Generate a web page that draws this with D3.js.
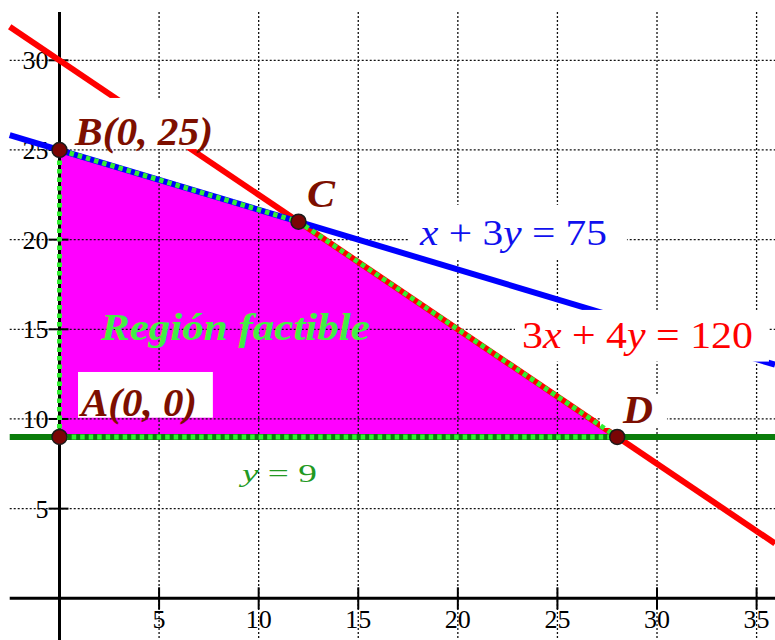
<!DOCTYPE html>
<html>
<head>
<meta charset="utf-8">
<script src="https://cdn.jsdelivr.net/npm/d3@7"></script>
<style>
  body { margin: 0; background: #fff; }
  svg { display: block; }
  text { font-family: "Liberation Serif", "Times New Roman", serif; }
</style>
</head>
<body>
<div id="chart"></div>
<script>
// ticks
const xTicks = [5, 10, 15, 20, 25, 30, 35];
const yTicks = [5, 10, 15, 20, 25, 30];

// constraint lines a*x + b*y = c
const lineNames = ["red", "blue", "green"];
const lineA = [3, 1, 0];
const lineB = [4, 3, 1];
const lineC = [120, 75, 9];

// vertices of the feasible region
const vertexNames = ["A", "B", "C", "D"];
const vertexX = [0, 0, 12, 28];
const vertexY = [9, 25, 21, 9];

const W = 775, H = 640;
const x = d3.scaleLinear().domain([0, 35]).range([59.5, 756.6]);
const y = d3.scaleLinear().domain([0, 30]).range([598.3, 60.3]);
const xMin = -2.5, xMax = x.invert(W);
const yMax = 32.7, yMin = y.invert(H);

const svg = d3.select("#chart").append("svg")
  .attr("width", W).attr("height", H);

const DARKRED = "#7d0f00";
const DOTGREEN = "#33ee33";

// feasible region
const region = vertexX.map((d, i) => [x(d), y(vertexY[i])]);
svg.append("polygon")
  .attr("points", region.map(p => p.join(",")).join(" "))
  .attr("fill", "#ff00ff");

// grid
const grid = svg.append("g").attr("stroke", "#111").attr("stroke-width", 1.3)
  .attr("stroke-dasharray", "2,2");
grid.selectAll("line.v").data(xTicks).enter().append("line")
  .attr("x1", d => x(d)).attr("x2", d => x(d))
  .attr("y1", y(yMax)).attr("y2", H);
grid.selectAll("line.h").data(yTicks).enter().append("line")
  .attr("x1", x(xMin)).attr("x2", W)
  .attr("y1", d => y(d)).attr("y2", d => y(d));

// axes
svg.append("line").attr("x1", x(0)).attr("x2", x(0))
  .attr("y1", y(yMax)).attr("y2", H)
  .attr("stroke", "#000").attr("stroke-width", 3);
svg.append("line").attr("x1", x(xMin)).attr("x2", W)
  .attr("y1", y(0)).attr("y2", y(0))
  .attr("stroke", "#000").attr("stroke-width", 3);
svg.selectAll("line.xt").data(xTicks).enter().append("line")
  .attr("x1", d => x(d)).attr("x2", d => x(d))
  .attr("y1", y(0) - 11).attr("y2", y(0) + 11)
  .attr("stroke", "#000").attr("stroke-width", 2);
svg.selectAll("line.yt").data(yTicks).enter().append("line")
  .attr("x1", x(0) - 11).attr("x2", x(0) + 9)
  .attr("y1", d => y(d)).attr("y2", d => y(d))
  .attr("stroke", "#000").attr("stroke-width", 2);

svg.selectAll("text.xl").data(xTicks).enter().append("text")
  .attr("x", d => x(d)).attr("y", y(0) + 30)
  .attr("text-anchor", "middle").attr("font-size", 26)
  .text(d => d);
svg.selectAll("text.yl").data(yTicks).enter().append("text")
  .attr("x", x(0) - 11).attr("y", d => y(d) + 9)
  .attr("text-anchor", "end").attr("font-size", 26)
  .text(d => d);

function linePath(i) {
  const a = lineA[i], b = lineB[i], c = lineC[i];
  return [[x(xMin), y((c - a * xMin) / b)], [x(xMax), y((c - a * xMax) / b)]];
}
function drawLine(i, color) {
  const p = linePath(i);
  svg.append("line")
    .attr("x1", p[0][0]).attr("y1", p[0][1])
    .attr("x2", p[1][0]).attr("y2", p[1][1])
    .attr("stroke", color).attr("stroke-width", 6);
}
function box(x0, y0, x1, y1) {
  svg.append("rect")
    .attr("x", x(x0)).attr("y", y(y0))
    .attr("width", x(x1) - x(x0)).attr("height", y(y1) - y(y0))
    .attr("fill", "#fff");
}

drawLine(0, "#ff0000");
box(0.33, 27.9, 8.06, 25.05);   // B label
box(0.93, 12.62, 7.7, 10.07);   // A label
box(17.5, 21.94, 28.49, 18.9);  // x + 3y label
drawLine(1, "#0000ff");
box(22.87, 16.08, 35.62, 13.2); // 3x + 4y label
box(27.14, 11.4, 30.5, 9.5);    // D label
drawLine(2, "#0b7d0b");

// dotted boundary of the region
svg.append("polygon")
  .attr("points", region.map(p => p.join(",")).join(" "))
  .attr("fill", "none").attr("stroke", DOTGREEN)
  .attr("stroke-width", 5).attr("stroke-dasharray", "4.5,4");

// vertices
svg.selectAll("circle.v").data(vertexNames).enter().append("circle")
  .attr("cx", (d, i) => x(vertexX[i])).attr("cy", (d, i) => y(vertexY[i]))
  .attr("r", 7.5).attr("fill", "#7a0505")
  .attr("stroke", "#1a1a1a").attr("stroke-width", 1.5);

// labels
function label(px, py, txt, size, color, len, bold) {
  return svg.append("text")
    .attr("x", x(px)).attr("y", y(py))
    .attr("font-size", size).attr("fill", color)
    .attr("font-style", "italic")
    .attr("font-weight", bold ? "bold" : "normal")
    .attr("textLength", len).attr("lengthAdjust", "spacingAndGlyphs")
    .text(txt);
}
label(0.78, 25.25, "B(0, 25)", 40, DARKRED, 138, true);
label(1.08, 10.15, "A(0, 0)", 40, DARKRED, 116, true);
label(12.43, 21.82, "C", 40, DARKRED, 28, true);
label(28.29, 9.77, "D", 40, DARKRED, 30, true);
label(2.08, 14.4, "Región factible", 38, "#44ee44", 269, true);

function equation(px, py, parts, size, color, len) {
  const t = svg.append("text")
    .attr("x", x(px)).attr("y", y(py))
    .attr("font-size", size).attr("fill", color)
    .attr("xml:space", "preserve")
    .attr("textLength", len).attr("lengthAdjust", "spacingAndGlyphs");
  parts.forEach(p => {
    t.append("tspan").attr("font-style", p[1] ? "italic" : "normal").text(p[0]);
  });
}
equation(18.1, 19.7, [["x", 1], [" + 3", 0], ["y", 1], [" = 75", 0]], 36, "#1010ee", 187);
equation(23.22, 13.96, [["3", 0], ["x", 1], [" + 4", 0], ["y", 1], [" = 120", 0]], 38, "#ff0000", 231);
equation(9.16, 6.49, [["y", 1], [" = 9", 0]], 25, "#229922", 75);
</script>
</body>
</html>
